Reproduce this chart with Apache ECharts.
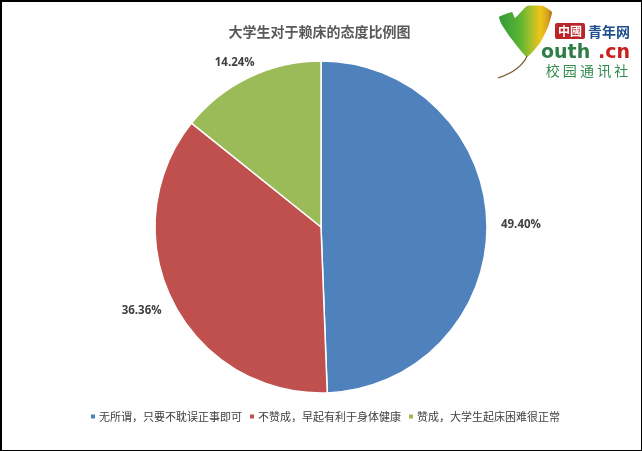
<!DOCTYPE html>
<html><head><meta charset="utf-8">
<style>html,body{margin:0;padding:0;background:#fff}#c{width:642px;height:451px}</style>
<script src="https://cdn.jsdelivr.net/npm/echarts@6/dist/echarts.min.js"></script></head>
<body><div id="c"></div>
<script>
const titleText = '大学生对于赖床的态度比例图';
const categories = ['无所谓，只要不耽误正事即可','不赞成，早起有利于身体健康','赞成，大学生起床困难很正常'];
const values = [49.40,36.36,14.24];
const colors = ['#4f81bd','#c0504d','#9bbb59'];
const labelNudge = [[-1,1],[3,6],[16,-7]];
const font = '"Noto Sans CJK SC","Open Sans",sans-serif';
const chart = echarts.init(document.getElementById('c'));
const ln = (x1,y1,x2,y2,w)=>({type:'line',shape:{x1,y1,x2,y2},style:{stroke:'#000',lineWidth:w},silent:true});
chart.setOption({
  animation:false,
  backgroundColor:'#fff',
  title:{text:titleText,left:314.5,top:20,textAlign:'center',textStyle:{fontFamily:font,fontSize:14,fontWeight:'bold',color:'#595959'}},
  legend:{bottom:24,left:84,itemWidth:6,itemHeight:6,itemGap:6,
    data:categories.map(n=>({name:n,icon:'rect'})),textStyle:{fontFamily:font,fontSize:11,color:'#404040',padding:[0,0,0,-2]}},
  series:[{type:'pie',center:[321,227],radius:[0,166],startAngle:90,clockwise:true,
    data:categories.map((n,i)=>({name:n,value:values[i],itemStyle:{color:colors[i]}})),
    itemStyle:{borderColor:'#fff',borderWidth:1.5},
    label:{show:true,position:'outside',formatter:p=>p.value.toFixed(2)+'%',fontFamily:'"Open Sans",sans-serif',fontSize:11.5,fontWeight:'bold',color:'#404040'},
    labelLine:{show:false,length:8,length2:2},
    labelLayout:p=>({dx:labelNudge[p.dataIndex][0],dy:labelNudge[p.dataIndex][1]}),
    emphasis:{disabled:true}}],
  graphic:[
    ln(0,1,642,1,2), ln(1,0,1,451,2), ln(641.5,0,641.5,451,1), ln(0,450.5,642,450.5,1),
    {type:'polygon',shape:{points:[[499,17],[512,12],[515,18],[527,6],[543,6],[552,12],[548,27],[540,43],[527,57],[510,37],[502,25]],smooth:0.12},
     style:{fill:{type:'linear',x:0,y:0,x2:1,y2:0,colorStops:[{offset:0,color:'#2f9a3a'},{offset:.4,color:'#5cb531'},{offset:.6,color:'#a8c02a'},{offset:.78,color:'#f0c419'},{offset:.92,color:'#d9a21e'},{offset:1,color:'#a8701f'}]}},silent:true},
    {type:'bezierCurve',shape:{x1:527,y1:56,x2:498,y2:78,cpx1:522,cpy1:68,cpx2:510,cpy2:74},style:{fill:'none',stroke:'#7a5a30',lineWidth:1.2},silent:true},
    {type:'rect',shape:{x:555,y:23,width:30,height:16,r:2},style:{fill:'#b9252a'},silent:true},
    {type:'text',x:570,y:31,style:{text:'中國',fill:'#fff',font:'bold 12px "Noto Sans CJK SC"',align:'center',verticalAlign:'middle'},silent:true},
    {type:'text',x:609,y:32,style:{text:'青年网',fill:'#1f4e8c',font:'bold 14px "Noto Sans CJK SC"',align:'center',verticalAlign:'middle'},silent:true},
    {type:'text',x:541,y:53,style:{text:'outh',fill:'#2f7d46',font:'bold 19px "DejaVu Sans"',align:'left',verticalAlign:'middle'},silent:true},
    {type:'text',x:598,y:53,style:{text:'.cn',fill:'#c8201e',font:'bold 19px "DejaVu Sans"',align:'left',verticalAlign:'middle'},silent:true},
    {type:'text',x:587,y:71,style:{text:'校 园 通 讯 社',fill:'#2f8a4a',font:'14px "Noto Sans CJK SC"',align:'center',verticalAlign:'middle'},silent:true}
  ]
});
</script></body></html>
